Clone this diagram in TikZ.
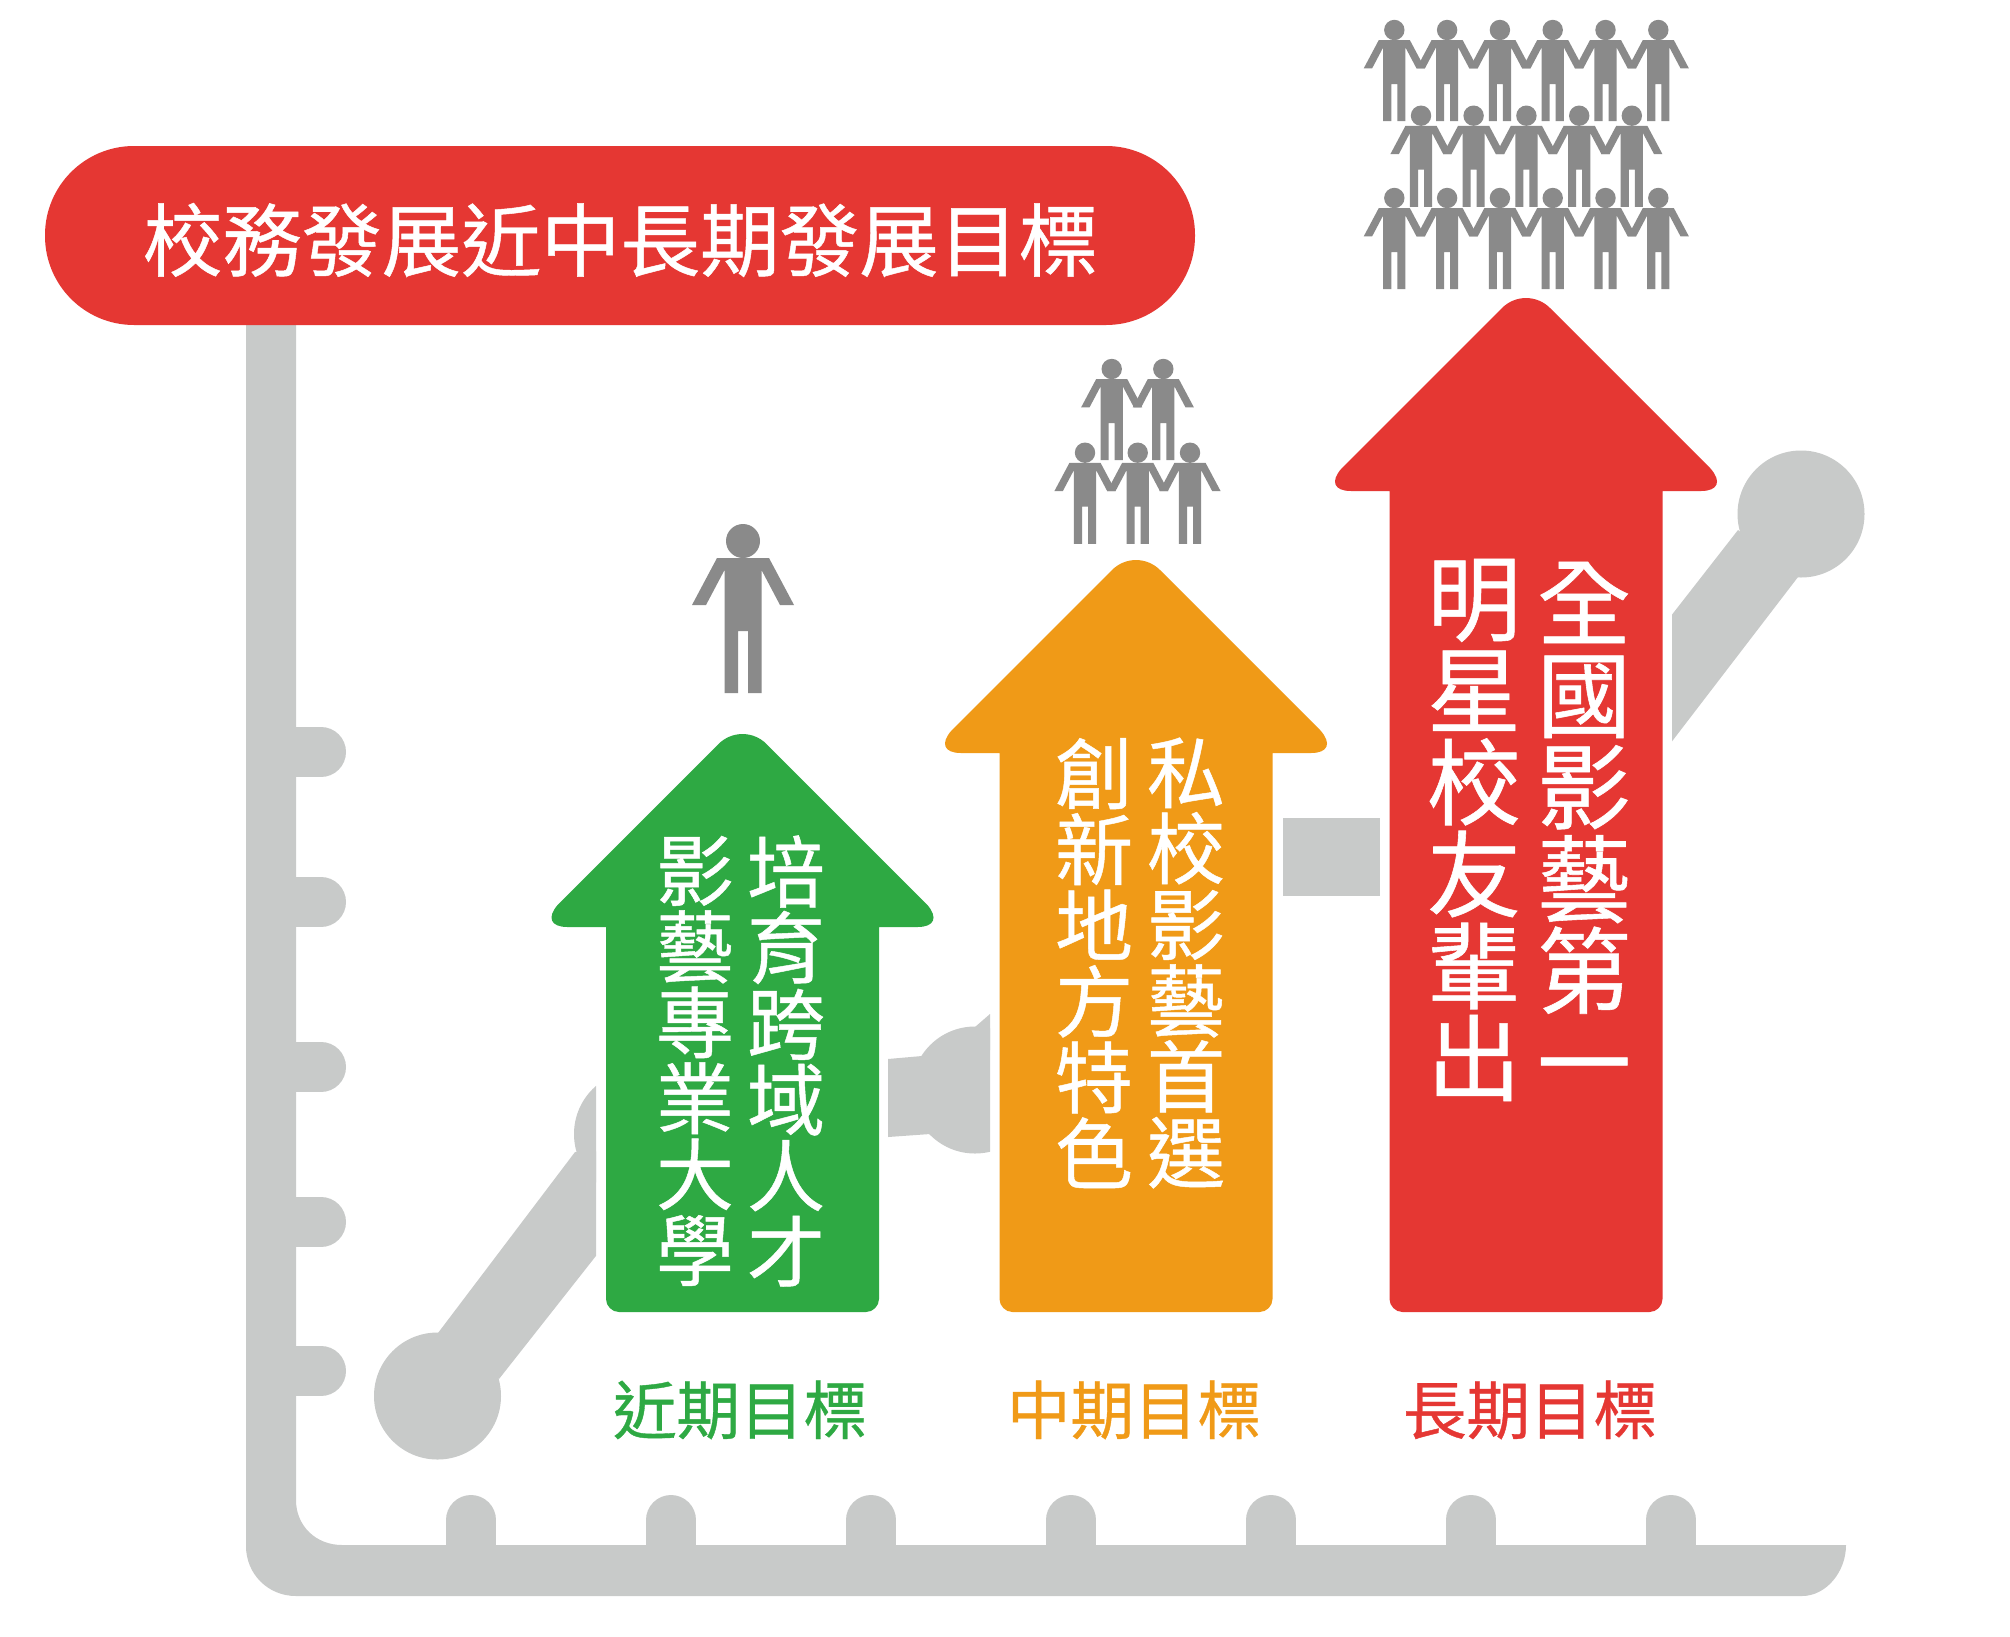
\documentclass[tikz,border=0pt]{standalone}
\usepackage{fontspec}
\setmainfont{Noto Sans CJK TC}[FakeBold=0.6]
\definecolor{goalred}{HTML}{E53733}
\definecolor{goalgreen}{HTML}{2EA943}
\definecolor{goalorange}{HTML}{F09A17}
\definecolor{axisgray}{HTML}{C8CAC9}
\definecolor{figgray}{HTML}{8A8A8A}
\tikzset{
  axisfill/.style={fill=axisgray},
  tickmark/.style={draw=axisgray,line width=50pt,line cap=round},
  titletext/.style={text=white,inner sep=0pt,font=\fontsize{79.6}{79.6}\selectfont},
  columntext/.style={text=white,inner sep=0pt,align=center,font=\fontsize{78}{76}\selectfont},
  bigcolumn/.style={text=white,inner sep=0pt,align=center,font=\fontsize{94}{92}\selectfont},
  goallabel/.style={inner sep=0pt,font=\fontsize{63.5}{64}\selectfont},
  person/.pic={
    \fill[figgray] (0,0) circle[radius=17];
    \fill[figgray] (-26,17) -- (26,17) -- (51,64) -- (37,64) -- (18.5,29)
      -- (18.5,152) -- (5,152) -- (5,90) -- (-5,90) -- (-5,152) -- (-18.5,152)
      -- (-18.5,29) -- (-37,64) -- (-51,64) -- cycle;
  }
}
% Up arrow with rounded apex and wing tips; arguments: centre x, shoulder y, colour.
\newcommand{\goalarrow}[3]{
  \begin{scope}[shift={(#1,#2)}]
    \pgfmathsetmacro{\bodyh}{1312-#2}
    \pgfmathsetmacro{\bodyc}{\bodyh-13}
    \fill[#3] (-136.5,0)
      -- (-175,0) .. controls (-192,0) and (-196,-9.5) .. (-184.4,-22.6)
      -- (-24,-183) .. controls (-10.7,-196.3) and (10.7,-196.3) .. (24,-183)
      -- (184.4,-22.6) .. controls (196,-9.5) and (192,0) .. (175,0)
      -- (136.5,0) -- (136.5,\bodyc)
      .. controls (136.5,\bodyc+7) and (130.5,\bodyh) .. (123.5,\bodyh)
      -- (-123.5,\bodyh)
      .. controls (-130.5,\bodyh) and (-136.5,\bodyc+7) .. (-136.5,\bodyc)
      -- cycle;
  \end{scope}
}
\begin{document}
\begin{tikzpicture}[x=1pt,y=-1pt]
\useasboundingbox (0,0) rectangle (2010,1636);
\fill[white] (0,0) rectangle (2010,1636);

% Axes
\fill[axisfill] (246,300) -- (246,1546)
  .. controls (246,1574) and (268,1596) .. (296,1596)
  -- (1802,1596) .. controls (1826,1596) and (1846,1572) .. (1846,1545)
  -- (342,1545) .. controls (316,1545) and (296,1526) .. (296,1500)
  -- (296,300) -- cycle;
\foreach \ty in {752,902,1067,1222,1371}
  \draw[tickmark] (296,\ty) -- (321,\ty);
\foreach \tx in {471,671,871,1071,1271,1471,1671}
  \draw[tickmark] (\tx,1546) -- (\tx,1520);

% Trend line seen between the arrows
\begin{scope}
  \clip (300,1000) rectangle (596,1500);
  \fill[axisfill] (437.5,1396) circle[radius=63.5];
  \fill[axisfill] (637.5,1134) circle[radius=63.5];
  \fill[axisfill] (438,1333) -- (575,1152) -- (640,1150) -- (640,1200) -- (499,1379) -- cycle;
\end{scope}
\begin{scope}
  \clip (888,1000) rectangle (990,1200);
  \fill[axisfill] (975,1090) circle[radius=63.5];
  \fill[axisfill] (888,1059) -- (922,1056) -- (930,1134) -- (888,1137) -- cycle;
  \fill[axisfill] (975,1027) -- (990,1014) -- (990,1050) -- (975,1050) -- cycle;
\end{scope}
\fill[axisfill] (1283,818) rectangle (1380,896);
\begin{scope}
  \clip (1672,400) rectangle (1900,800);
  \fill[axisfill] (1801,514) circle[radius=63.5];
  \fill[axisfill] (1660,630) -- (1738,530) -- (1798,577) -- (1660,757) -- cycle;
\end{scope}

% Title bar
\fill[goalred,rounded corners=89pt] (45,146) rectangle (1195,325);
\node[titletext] (title) at (620.5,240) {校務發展近中長期發展目標};

% Goal arrows
\goalarrow{742.5}{927}{goalgreen}
\goalarrow{1136}{753}{goalorange}
\goalarrow{1526}{491}{goalred}

% Arrow texts
\node[columntext] (greenb) at (786,1061) {培\\育\\跨\\域\\人\\才};
\node[columntext] (greena) at (695,1061) {影\\藝\\專\\業\\大\\學};
\node[columntext] (orangeb) at (1186,963) {私\\校\\影\\藝\\首\\選};
\node[columntext] (orangea) at (1094,963) {創\\新\\地\\方\\特\\色};
\node[bigcolumn] (redb) at (1584,830) {全\\國\\影\\藝\\第\\一};
\node[bigcolumn] (reda) at (1474,830) {明\\星\\校\\友\\輩\\出};

% Period labels
\node[goallabel,text=goalgreen] (labnear) at (740,1410) {近期目標};
\node[goallabel,text=goalorange] (labmid) at (1134,1410) {中期目標};
\node[goallabel,text=goalred] (lablong) at (1530,1410) {長期目標};

% Figures above the arrows
\pic at (743,541) {person};
\foreach \px in {1111.7,1163.3}
  \pic[scale=.6] at (\px,369) {person};
\foreach \px in {1085,1137.7,1190}
  \pic[scale=.6] at (\px,452.7) {person};
\foreach \px in {1394.3,1447.1,1499.9,1552.7,1605.5,1658.3} {
  \pic[scale=.6] at (\px,30) {person};
  \pic[scale=.6] at (\px,198) {person};
}
\foreach \px in {1421,1473.6,1526.4,1579.2,1631.8}
  \pic[scale=.6] at (\px,115.7) {person};
\end{tikzpicture}
\end{document}
